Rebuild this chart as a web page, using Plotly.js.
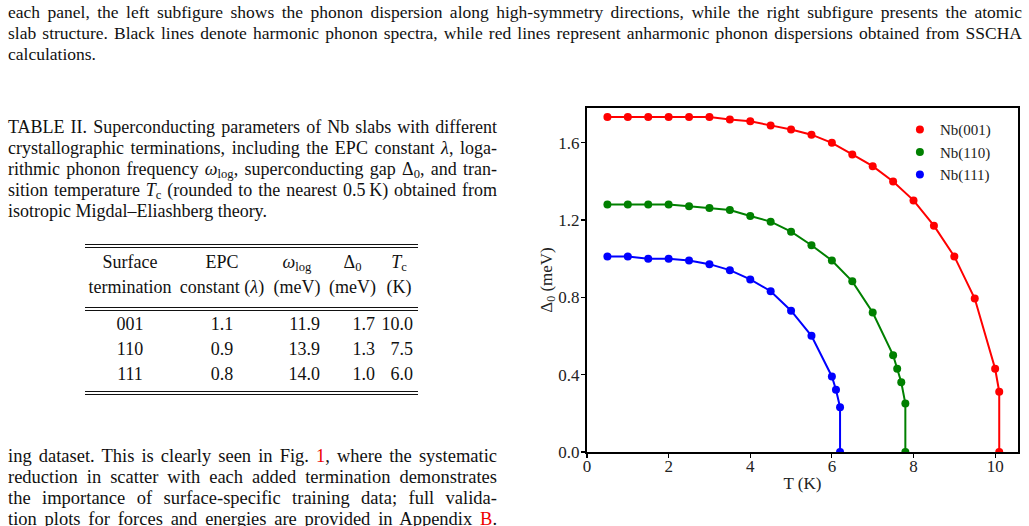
<!DOCTYPE html>
<html>
<head>
<meta charset="utf-8">
<script src="https://cdn.plot.ly/plotly-3.0.1.min.js"></script>
<style>
  html, body { margin: 0; padding: 0; background: #fff; }
  body { width: 1029px; height: 526px; overflow: hidden; position: relative;
         font-family: 'Liberation Serif', 'Times New Roman', serif; color: #111; }
  .ln { position: absolute; white-space: nowrap; text-align: justify; text-align-last: justify; }
  .ln.last { text-align-last: left; }
  .top { font-size: 17.5px; line-height: 21px; left: 8px; width: 1014px; }
  .cap { font-size: 18px; line-height: 21px; left: 8px; width: 489px; }
  .body { font-size: 18.5px; line-height: 21px; left: 8px; width: 489px; }
  .ref { color: #e00; }
  .rule { position: absolute; left: 85px; width: 333px; height: 1.3px; background: #111; }
  .cell { position: absolute; font-size: 18px; line-height: 20px; white-space: nowrap; }
  sub { font-size: 0.7em; vertical-align: -0.25em; line-height: 0; }
  #plot { position: absolute; left: 520px; top: 80px; width: 509px; height: 446px; }
</style>
</head>
<body>

<div class="ln top" style="top:2px">each panel, the left subfigure shows the phonon dispersion along high-symmetry directions, while the right subfigure presents the atomic</div>
<div class="ln top" style="top:23px">slab structure. Black lines denote harmonic phonon spectra, while red lines represent anharmonic phonon dispersions obtained from SSCHA</div>
<div class="ln top last" style="top:44px">calculations.</div>

<div class="ln cap" style="top:117px">TABLE II. Superconducting parameters of Nb slabs with different</div>
<div class="ln cap" style="top:138px">crystallographic terminations, including the EPC constant <i>λ</i>, loga-</div>
<div class="ln cap" style="top:159px">rithmic phonon frequency <i>ω</i><sub>log</sub>, superconducting gap Δ<sub>0</sub>, and tran-</div>
<div class="ln cap" style="top:180px">sition temperature <i>T</i><sub>c</sub> (rounded to the nearest 0.5&#8201;K) obtained from</div>
<div class="ln cap last" style="top:201px">isotropic Migdal–Eliashberg theory.</div>

<div class="rule" style="top:243.5px"></div>
<div class="rule" style="top:246.5px"></div>
<div class="rule" style="top:307px"></div>
<div class="rule" style="top:310px"></div>
<div class="rule" style="top:391px"></div>
<div class="rule" style="top:394px"></div>
<div id="table"></div>

<div class="ln body" style="top:446px">ing dataset. This is clearly seen in Fig. <span class="ref">1</span>, where the systematic</div>
<div class="ln body" style="top:467px">reduction in scatter with each added termination demonstrates</div>
<div class="ln body" style="top:488px">the importance of surface-specific training data; full valida-</div>
<div class="ln body" style="top:509px">tion plots for forces and energies are provided in Appendix <span class="ref">B</span>.</div>

<div id="plot"></div>

<script>
// ---- Table II contents ----
const headLine1 = ['Surface', 'EPC', '<i>ω</i><sub>log</sub>', 'Δ<sub>0</sub>', '<i>T</i><sub>c</sub>'];
const headLine2 = ['termination', 'constant (<i>λ</i>)', '(meV)', '(meV)', '(K)'];
const termination = ['001', '110', '111'];
const epcLambda = ['1.1', '0.9', '0.8'];
const omegaLog = ['11.9', '13.9', '14.0'];
const gapDelta0 = ['1.7', '1.3', '1.0'];
const critTemp = ['10.0', '7.5', '6.0'];

// column boxes: left edge, width, alignment of body cells
const cols = [
  { left: 85,  width: 90, align: 'center' },
  { left: 175, width: 94, align: 'center' },
  { left: 269, width: 56, align: 'right' },
  { left: 325, width: 55, align: 'right' },
  { left: 380, width: 38, align: 'right' }
];

function addCell(html, col, top, align) {
  const d = document.createElement('div');
  d.className = 'cell';
  d.innerHTML = html;
  d.style.left = col.left + 'px';
  d.style.width = (col.width - (align === 'right' ? 5 : 0)) + 'px';
  d.style.textAlign = align;
  d.style.top = top + 'px';
  document.getElementById('table').appendChild(d);
}
const headTops = [251.6, 277];
[headLine1, headLine2].forEach((row, r) =>
  row.forEach((h, c) => addCell(h, cols[c], headTops[r], 'center')));
const bodyRows = termination.map((t, i) => [t, epcLambda[i], omegaLog[i], gapDelta0[i], critTemp[i]]);
bodyRows.forEach((row, r) =>
  row.forEach((v, c) => addCell(v, cols[c], 314 + 25 * r, cols[c].align)));

// shrink any justified line whose natural width would overflow its column
function fitLines() {
  document.querySelectorAll('.ln').forEach(el => {
    const target = el.clientWidth;
    el.style.width = 'auto';
    const natural = el.offsetWidth;
    el.style.width = '';
    if (natural > target - 4) {
      const fs = parseFloat(getComputedStyle(el).fontSize);
      el.style.fontSize = (fs * (target - 4) / natural).toFixed(2) + 'px';
    }
  });
}
fitLines();

// ---- Gap vs temperature for the three terminations ----
const T_001 = [0.5, 1.0, 1.5, 2.0, 2.5, 3.0, 3.5, 4.0, 4.5, 5.0, 5.5, 6.0, 6.5, 7.0, 7.5, 8.0, 8.5, 9.0, 9.5, 10.0, 10.1, 10.1];
const gap_001 = [1.733, 1.733, 1.733, 1.733, 1.733, 1.733, 1.720, 1.711, 1.690, 1.669, 1.642, 1.600, 1.540, 1.479, 1.400, 1.302, 1.171, 1.012, 0.794, 0.431, 0.312, 0.0];

const T_110 = [0.5, 1.0, 1.5, 2.0, 2.5, 3.0, 3.5, 4.0, 4.5, 5.0, 5.5, 6.0, 6.5, 7.0, 7.5, 7.6, 7.7, 7.8, 7.8];
const gap_110 = [1.281, 1.281, 1.281, 1.281, 1.271, 1.262, 1.252, 1.221, 1.192, 1.140, 1.070, 0.991, 0.883, 0.722, 0.501, 0.431, 0.361, 0.251, 0.0];

const T_111 = [0.5, 1.0, 1.5, 2.0, 2.5, 3.0, 3.5, 4.0, 4.5, 5.0, 5.5, 6.0, 6.1, 6.2, 6.2];
const gap_111 = [1.012, 1.012, 1.000, 1.000, 0.991, 0.972, 0.941, 0.893, 0.832, 0.731, 0.601, 0.391, 0.322, 0.232, 0.0];

const seriesNames = ['Nb(001)', 'Nb(110)', 'Nb(111)'];
const seriesColors = ['#ff0000', '#008000', '#0000ff'];
const seriesT = [T_001, T_110, T_111];
const seriesGap = [gap_001, gap_110, gap_111];

const serif = 'Liberation Serif, Times New Roman, serif';
const traces = [];
seriesNames.forEach((name, i) => {
  traces.push({
    x: seriesT[i], y: seriesGap[i], type: 'scatter', mode: 'lines',
    line: { color: seriesColors[i], width: 2 }, showlegend: false, hoverinfo: 'skip'
  });
});
seriesNames.forEach((name, i) => {
  traces.push({
    x: seriesT[i], y: seriesGap[i], type: 'scatter', mode: 'markers', name: name,
    marker: { color: seriesColors[i], size: 8 }
  });
});

const axisCommon = {
  showline: true, linecolor: '#000', linewidth: 2, mirror: true,
  showgrid: false, zeroline: false,
  ticks: 'outside', ticklen: 4, tickwidth: 1.2, tickcolor: '#000',
  tickfont: { family: serif, size: 17, color: '#222' }
};

const layout = {
  width: 509, height: 446,
  margin: { l: 67, r: 11, t: 28, b: 74 },
  font: { family: serif, size: 15, color: '#222' },
  paper_bgcolor: 'rgba(0,0,0,0)', plot_bgcolor: '#fff',
  showlegend: true,
  legend: {
    x: 0.726, y: 0.985, xanchor: 'left', yanchor: 'top',
    bgcolor: 'rgba(0,0,0,0)', font: { family: serif, size: 15, color: '#222' }
  },
  xaxis: Object.assign({}, axisCommon, {
    range: [0, 10.56], dtick: 2, tick0: 0, ticklabelstandoff: -6,
    title: { text: 'T (K)', font: { family: serif, size: 17, color: '#222' }, standoff: 2 }
  }),
  yaxis: Object.assign({}, axisCommon, {
    range: [0, 1.78], dtick: 0.4, tick0: 0, tickformat: '.1f', ticklabelstandoff: -2,
    title: { text: 'Δ<sub>0</sub> (meV)', font: { family: serif, size: 17, color: '#222' }, standoff: 0 }
  })
};

Plotly.newPlot('plot', traces, layout, { displayModeBar: false, staticPlot: true });
</script>
</body>
</html>
